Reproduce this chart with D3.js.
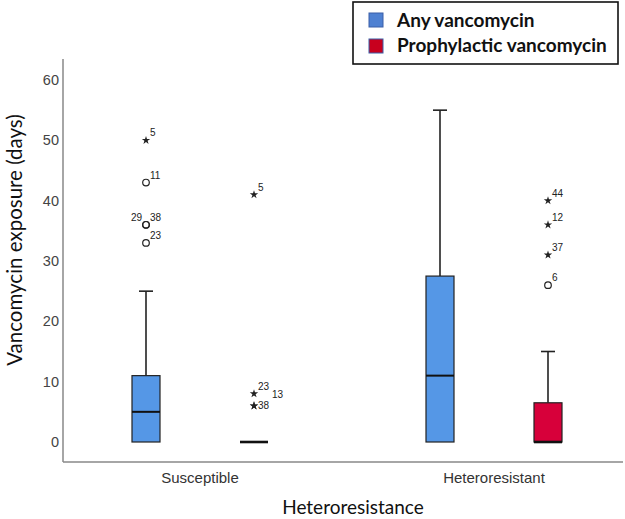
<!DOCTYPE html>
<html><head><meta charset="utf-8">
<script src="https://cdn.jsdelivr.net/npm/d3@7"></script>
<style>body{margin:0;background:#fff;}svg{display:block;}</style>
</head><body>
<script>
// ---- data ----
const categories = ["Susceptible", "Heteroresistant"];
const series = ["Any vancomycin", "Prophylactic vancomycin"];
const yTicks = [0, 10, 20, 30, 40, 50, 60];

// box statistics per category (Susceptible, Heteroresistant)
const anyLow = [0, 0];
const anyQ1 = [0, 0];
const anyMedian = [5, 11];
const anyQ3 = [11, 27.5];
const anyHigh = [25, 55];

const prophLow = [0, 0];
const prophQ1 = [0, 0];
const prophMedian = [0, 0];
const prophQ3 = [0, 6.5];
const prophHigh = [0, 15];

// outliers
const outlierCategory = ["Susceptible","Susceptible","Susceptible","Susceptible","Susceptible",
  "Susceptible","Susceptible","Susceptible","Susceptible",
  "Heteroresistant","Heteroresistant","Heteroresistant","Heteroresistant"];
const outlierSeries = ["Any vancomycin","Any vancomycin","Any vancomycin","Any vancomycin","Any vancomycin",
  "Prophylactic vancomycin","Prophylactic vancomycin","Prophylactic vancomycin","Prophylactic vancomycin",
  "Prophylactic vancomycin","Prophylactic vancomycin","Prophylactic vancomycin","Prophylactic vancomycin"];
const outlierValue = [50, 43, 36, 36, 33, 41, 8, 6, 6, 40, 36, 31, 26];
const outlierLabel = ["5", "11", "29", "38", "23", "5", "23", "38", "13", "44", "12", "37", "6"];
const outlierKind = ["star","circle","circle","circle","circle","star","star","star","star","star","star","star","circle"];
const outlierLabelSide = ["r","r","l","r","r","r","r","r","r","r","r","r","r"];

const seriesColors = ["#5597E6", "#D7003A"];
const legendColors = ["#4F81D2", "#C8001E"];

// ---- layout ----
const W = 625, H = 519;
const svg = d3.select("body").append("svg").attr("width", W).attr("height", H);

const y = d3.scaleLinear().domain([0, 60]).range([442, 80]);
const x = d3.scaleBand().domain(categories).range([53, 641]).padding(0);
const xs = d3.scalePoint().domain(series).range([-54, 54]);
const boxW = 28, capW = 14;

// axes
const axisColor = "#888";
const yAxis = svg.append("g").attr("transform", "translate(63,0)")
  .call(d3.axisLeft(y).tickValues(yTicks).tickSize(0).tickPadding(4));
yAxis.select(".domain").remove();
yAxis.selectAll("text").attr("font-family", "Liberation Sans, Arial, sans-serif")
  .attr("font-size", 14.5).attr("fill", "#444");
svg.append("line").attr("x1", 63).attr("x2", 63).attr("y1", 59).attr("y2", 462)
  .attr("stroke", axisColor).attr("stroke-width", 1.5);

const xAxis = svg.append("g").attr("transform", "translate(0,462)")
  .call(d3.axisBottom(x).tickSize(0).tickPadding(10));
xAxis.select(".domain").remove();
xAxis.selectAll("text").attr("font-family", "Liberation Sans, Arial, sans-serif")
  .attr("font-size", 15).attr("fill", "#333");
svg.append("line").attr("x1", 63).attr("x2", 623).attr("y1", 462).attr("y2", 462)
  .attr("stroke", axisColor).attr("stroke-width", 1.5);

// axis titles
svg.append("text").attr("x", 353).attr("y", 514).attr("text-anchor", "middle")
  .attr("font-family", "Lato, sans-serif").attr("font-size", 19).attr("fill", "#111")
  .text("Heteroresistance");
svg.append("text").attr("transform", "translate(22,240) rotate(-90)").attr("text-anchor", "middle")
  .attr("font-family", "Lato, sans-serif").attr("font-size", 20.5).attr("fill", "#111")
  .text("Vancomycin exposure (days)");

// boxes
const stats = [
  {s: series[0], low: anyLow, q1: anyQ1, med: anyMedian, q3: anyQ3, high: anyHigh, color: seriesColors[0]},
  {s: series[1], low: prophLow, q1: prophQ1, med: prophMedian, q3: prophQ3, high: prophHigh, color: seriesColors[1]}
];
const boxes = [];
stats.forEach(st => categories.forEach((c, i) => {
  boxes.push({c, s: st.s, low: st.low[i], q1: st.q1[i], med: st.med[i], q3: st.q3[i], high: st.high[i], color: st.color});
}));
const cx = d => x(d.c) + x.bandwidth() / 2 + xs(d.s);

const g = svg.append("g");
boxes.forEach(d => {
  const X = cx(d);
  if (d.high > d.q3) {
    g.append("line").attr("x1", X).attr("x2", X).attr("y1", y(d.q3)).attr("y2", y(d.high))
      .attr("stroke", "#222").attr("stroke-width", 1.6);
    g.append("line").attr("x1", X - capW / 2).attr("x2", X + capW / 2).attr("y1", y(d.high)).attr("y2", y(d.high))
      .attr("stroke", "#222").attr("stroke-width", 1.6);
  }
  if (d.low < d.q1) {
    g.append("line").attr("x1", X).attr("x2", X).attr("y1", y(d.q1)).attr("y2", y(d.low))
      .attr("stroke", "#222").attr("stroke-width", 1.6);
  }
  if (d.q3 > d.q1) {
    g.append("rect").attr("x", X - boxW / 2).attr("width", boxW)
      .attr("y", y(d.q3)).attr("height", y(d.q1) - y(d.q3))
      .attr("fill", d.color).attr("stroke", "#222").attr("stroke-width", 1.2);
  }
  g.append("line").attr("x1", X - boxW / 2).attr("x2", X + boxW / 2).attr("y1", y(d.med)).attr("y2", y(d.med))
    .attr("stroke", "#111").attr("stroke-width", d.med === d.q1 ? 2.6 : 2);
});

// outliers
const star = d3.symbol().type(d3.symbolStar).size(22);
const seen = {};
outlierValue.forEach((v, i) => {
  const X = x(outlierCategory[i]) + x.bandwidth() / 2 + xs(outlierSeries[i]);
  const Y = y(v);
  const key = outlierCategory[i] + "|" + outlierSeries[i] + "|" + v + "|" + outlierLabelSide[i];
  const dup = seen[key] || 0;
  seen[key] = dup + 1;
  if (outlierKind[i] === "star") {
    g.append("path").attr("d", star).attr("transform", `translate(${X},${Y})`).attr("fill", "#222");
  } else {
    g.append("circle").attr("cx", X).attr("cy", Y).attr("r", 3.3)
      .attr("fill", "none").attr("stroke", "#222").attr("stroke-width", 1.2);
  }
  const left = outlierLabelSide[i] === "l";
  // coincident points: first label sits beside the marker, the next one is nudged right and up
  const lx = left ? X - 4 : X + 4 + dup * 14;
  const ly = dup ? Y - 8 : (v === 6 && outlierSeries[i] === series[1] ? Y + 3 : Y - 4);
  g.append("text").attr("x", lx).attr("y", ly)
    .attr("text-anchor", left ? "end" : "start")
    .attr("font-family", "Liberation Sans, Arial, sans-serif").attr("font-size", 10).attr("fill", "#222")
    .text(outlierLabel[i]);
});

// legend
const lg = svg.append("g");
lg.append("rect").attr("x", 353).attr("y", 2).attr("width", 265).attr("height", 62)
  .attr("fill", "#fff").attr("stroke", "#111").attr("stroke-width", 1.6);
series.forEach((s, i) => {
  lg.append("rect").attr("x", 369).attr("y", 13 + i * 26).attr("width", 14).attr("height", 14)
    .attr("fill", legendColors[i]).attr("stroke", "#3a5fa8").attr("stroke-width", 1);
  lg.append("text").attr("x", 397).attr("y", 27 + i * 25)
    .attr("font-family", "Lato, sans-serif").attr("font-weight", "bold").attr("font-size", 19).attr("fill", "#111")
    .text(s);
});
</script>
</body></html>
